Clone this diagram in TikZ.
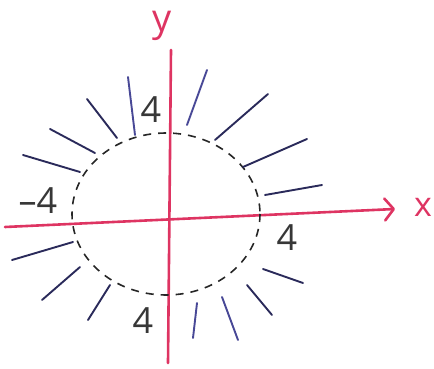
\documentclass[tikz,border=0pt]{standalone}
\usepackage{fontspec}
\setmainfont{Open Sans}
\usetikzlibrary{arrows.meta}

\definecolor{axispink}{RGB}{222,52,98}
\definecolor{raynavy}{RGB}{42,42,90}
\definecolor{rayblue}{RGB}{72,72,150}
\definecolor{pencil}{RGB}{55,55,55}

\begin{document}
\begin{tikzpicture}[
        x=1pt, y=-1pt,
        axis/.style={draw=axispink, line width=2.6pt, line cap=round},
        ray/.style={draw=raynavy, line width=1.9pt, line cap=round},
        bluray/.style={draw=rayblue, line width=1.9pt, line cap=round},
        bound/.style={draw=black!85, line width=1.6pt, dash pattern=on 8pt off 7pt},
        tick/.style={text=pencil, font=\fontsize{36}{36}\selectfont, inner sep=0pt},
        axlabel/.style={text=axispink, inner sep=0pt}
    ]
    \useasboundingbox (0,0) rectangle (434,369);

    % axes
    \coordinate (xstart) at (5,227);
    \coordinate (xend) at (395,209);
    \coordinate (ystart) at (171,50);
    \coordinate (yend) at (168,363);
    \draw[axis, -{Straight Barb[length=9pt,width=22pt,round]}] (xstart) -- (xend);
    \draw[axis] (ystart) -- (yend);
    \node[axlabel, font=\fontsize{34}{34}\selectfont] (xlab) at (423,207) {x};
    \node[axlabel, font=\fontsize{38}{38}\selectfont] (ylab) at (162,26) {y};

    % boundary |z| = 4
    \draw[bound] (166,214) ellipse [x radius=94, y radius=81];

    % rays outside the circle
    \foreach \a/\b/\c/\d in {117/138/87/99, 95/153/50/129, 80/172/23/155,
            73/242/12/260, 80/267/42/300, 110/285/88/320, 247/285/272/315,
            263/269/303/283, 265/195/322/185, 243/167/307/139, 215/140/268/94}
        \draw[ray] (\a,\b) -- (\c,\d);
    \foreach \a/\b/\c/\d in {135/135/128/77, 197/303/193/338, 222/297/238/340,
            187/125/207/70}
        \draw[bluray] (\a,\b) -- (\c,\d);

    % tick labels
    \node[tick] (topfour) at (151,110) {4};
    \node[tick] (leftfour) at (38,201) {--4};
    \node[tick] (rightfour) at (287,238) {4};
    \node[tick] (botfour) at (143,321) {4};
\end{tikzpicture}
\end{document}
